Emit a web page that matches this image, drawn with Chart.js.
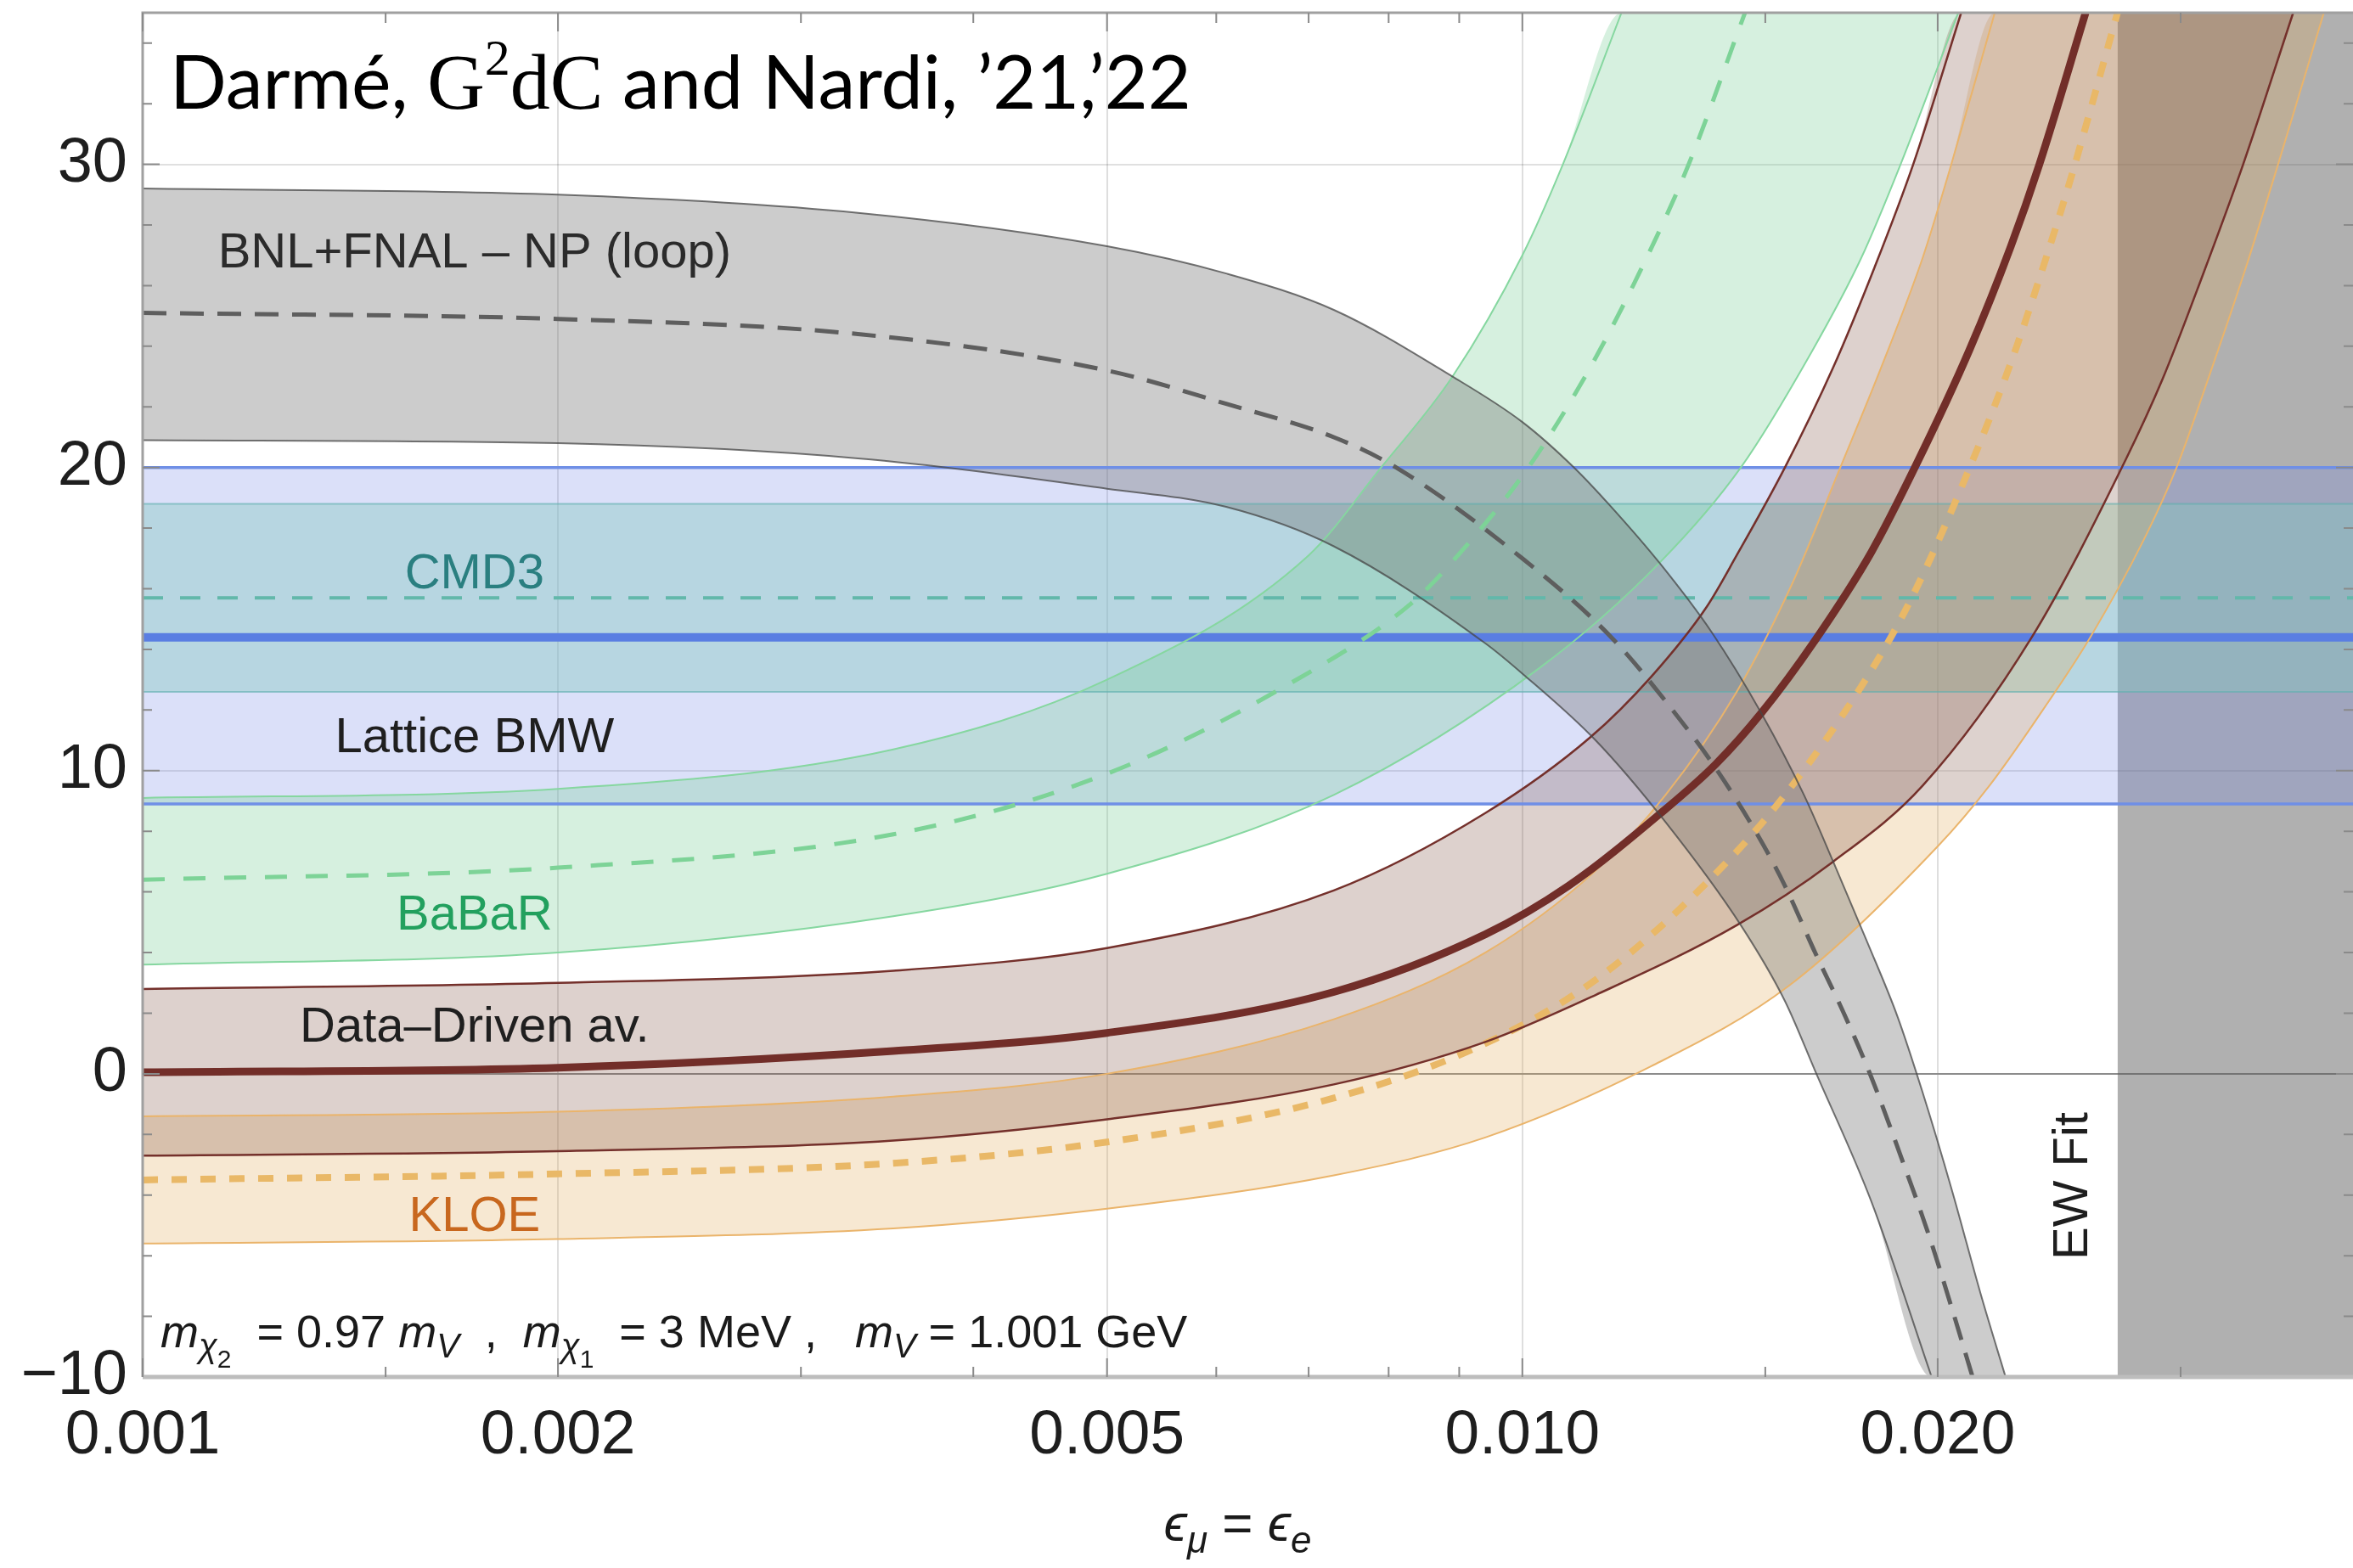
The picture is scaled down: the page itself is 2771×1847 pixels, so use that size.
<!DOCTYPE html>
<html>
<head>
<meta charset="utf-8">
<script src="https://cdn.jsdelivr.net/npm/chart.js@4.4.1/dist/chart.umd.min.js"></script>
<style>
  html, body { margin: 0; padding: 0; background: #fff; }
  #wrap { width: 2771px; height: 1847px; }
</style>
</head>
<body>
<div id="wrap"><canvas id="epsChart" width="2771" height="1847"></canvas></div>
<script>
// axes
let xTickValues = [0.001, 0.002, 0.005, 0.01, 0.02];
let xTickLabels = ['0.001', '0.002', '0.005', '0.010', '0.020'];
let xMinorTicks = [0.0015, 0.003, 0.004, 0.006, 0.007, 0.008, 0.009, 0.015, 0.03];
let yTickValues = [-10, 0, 10, 20, 30];
let yTickLabels = ['\u221210', '0', '10', '20', '30'];

// BNL+FNAL - NP (loop), grey band
let bnlUpperX = [0.001, 0.002, 0.0033, 0.005, 0.0061, 0.0073, 0.0089, 0.0100, 0.0109, 0.0116, 0.0126, 0.0137, 0.0149, 0.0160, 0.0168, 0.0178, 0.0187, 0.0195, 0.0205, 0.0215, 0.0224];
let bnlUpperY = [29.2, 29.0, 28.4, 27.3, 26.4, 25.2, 23.0, 21.5, 20.0, 18.7, 16.8, 14.6, 11.9, 9.2, 7.0, 4.3, 1.9, -0.6, -3.9, -7.3, -10];
let bnlMidX = [0.001, 0.002, 0.0033, 0.005, 0.0061, 0.0073, 0.0081, 0.0100, 0.0116, 0.0129, 0.0138, 0.0148, 0.0155, 0.0163, 0.0171, 0.0179, 0.0188, 0.0197, 0.0205, 0.0212];
let bnlMidY = [25.1, 24.9, 24.4, 23.2, 22.1, 21.0, 20.0, 17.0, 14.4, 11.9, 10.1, 7.9, 6.2, 4.0, 2.0, -0.1, -2.7, -5.3, -7.8, -10];
let bnlLowerX = [0.001, 0.002, 0.0033, 0.005, 0.0061, 0.0073, 0.0094, 0.0100, 0.0113, 0.0127, 0.0144, 0.0155, 0.0163, 0.0179, 0.0198];
let bnlLowerY = [20.9, 20.8, 20.3, 19.3, 18.7, 17.4, 14.2, 13.2, 11.0, 8.3, 4.9, 2.4, 0.1, -4.2, -10];

// BaBaR, green band
let babarUpperX = [0.001, 0.002, 0.0035, 0.005, 0.0070, 0.0079, 0.0089, 0.0100, 0.0107, 0.0118];
let babarUpperY = [9.1, 9.4, 10.7, 13.0, 17.1, 20.0, 23.0, 27.0, 30.0, 35];
let babarMidX = [0.001, 0.002, 0.0035, 0.005, 0.0068, 0.0083, 0.0089, 0.0101, 0.0112, 0.0123, 0.0132, 0.0145];
let babarMidY = [6.4, 6.8, 7.9, 9.9, 12.9, 15.5, 16.9, 20.0, 23.3, 26.9, 30.0, 35];
let babarLowerX = [0.001, 0.002, 0.0035, 0.005, 0.0073, 0.0103, 0.0126, 0.0144, 0.0162, 0.0176, 0.0188, 0.0207];
let babarLowerY = [3.6, 4.0, 5.2, 6.6, 9.2, 13.4, 16.9, 20.0, 23.8, 26.9, 30.0, 35];

// Data-Driven av., brown band
let ddUpperX = [0.001, 0.002, 0.0035, 0.005, 0.0073, 0.0094, 0.0112, 0.0124, 0.0136, 0.0143, 0.0155, 0.0168, 0.0180, 0.0192, 0.0208];
let ddUpperY = [2.8, 3.0, 3.4, 4.15, 6.05, 8.6, 11.1, 13.1, 15.4, 17.1, 20.0, 23.3, 26.6, 30.0, 35];
let ddMidX = [0.001, 0.002, 0.0035, 0.005, 0.0073, 0.0094, 0.0108, 0.0126, 0.0138, 0.0149, 0.0163, 0.0179, 0.0193, 0.0211, 0.0226, 0.0237, 0.0256];
let ddMidY = [0.05, 0.2, 0.75, 1.35, 2.7, 4.6, 6.2, 8.6, 10.2, 11.9, 14.3, 17.2, 20.1, 23.9, 27.3, 30.0, 35];
let ddLowerX = [0.001, 0.002, 0.0035, 0.005, 0.0073, 0.0094, 0.0113, 0.0143, 0.0168, 0.0195, 0.0234, 0.0274, 0.0291, 0.0311, 0.0333, 0.0362];
let ddLowerY = [-2.7, -2.55, -2.2, -1.5, -0.35, 1.05, 2.6, 4.9, 7.0, 9.5, 14.4, 20.3, 22.9, 26.3, 30.0, 35];

// KLOE, orange band
let kloeUpperX = [0.001, 0.002, 0.0035, 0.005, 0.0073, 0.0094, 0.0113, 0.0127, 0.0143, 0.0157, 0.0170, 0.0182, 0.0195, 0.0204, 0.0220];
let kloeUpperY = [-1.4, -1.25, -0.75, 0.0, 1.8, 4.0, 6.7, 9.2, 12.6, 16.2, 20.0, 23.3, 26.9, 29.8, 35];
let kloeMidX = [0.001, 0.002, 0.0035, 0.005, 0.0073, 0.0094, 0.0113, 0.0136, 0.0155, 0.0179, 0.0192, 0.0211, 0.0227, 0.0240, 0.0250, 0.0270];
let kloeMidY = [-3.5, -3.3, -2.95, -2.25, -0.8, 1.0, 3.1, 6.3, 9.2, 13.3, 15.8, 20.0, 23.7, 27.0, 29.6, 35];
let kloeLowerX = [0.001, 0.002, 0.0035, 0.005, 0.0073, 0.0094, 0.0124, 0.0156, 0.0200, 0.0218, 0.0240, 0.0258, 0.0282, 0.0298, 0.0314, 0.0334, 0.0353, 0.0381];
let kloeLowerY = [-5.6, -5.45, -5.1, -4.45, -3.35, -2.1, 0.25, 2.9, 7.5, 9.5, 12.2, 14.4, 17.6, 20.0, 22.9, 26.5, 30.0, 35];

// flat bands: Lattice BMW and CMD3
let flatX = [0.001, 0.04];
let bmwUpper = [20, 20];
let bmwMid = [14.4, 14.4];
let bmwLower = [8.9, 8.9];
let cmd3Upper = [18.8, 18.8];
let cmd3Mid = [15.7, 15.7];
let cmd3Lower = [12.6, 12.6];

// EW fit exclusion
let ewFitX = [0.027, 0.04];
let ewFitY = [35, 35];

function pts(xs, ys) {
  return xs.map(function (x, i) { return {x: x, y: ys[i]}; });
}

function curve(xs, ys, color, width, dash, order) {
  return {
    data: pts(xs, ys),
    borderColor: color,
    borderWidth: width,
    borderDash: dash || [],
    pointRadius: 0,
    fill: false,
    order: order,
    cubicInterpolationMode: 'monotone',
    clip: 0
  };
}

function bandFill(upper, lower, color, order) {
  return [
    {data: upper, fill: '+1', backgroundColor: color, borderColor: 'rgba(0,0,0,0)', borderWidth: 0,
     pointRadius: 0, order: order, cubicInterpolationMode: 'monotone', clip: 0},
    {data: lower, fill: false, borderColor: 'rgba(0,0,0,0)', borderWidth: 0,
     pointRadius: 0, order: order, cubicInterpolationMode: 'monotone', clip: 0}
  ];
}

// rising bands leave through the top, so the upper edge runs along the top until the lower edge gets there
function risingFill(ux, uy, lx, ly, color, order) {
  let upper = pts(ux, uy);
  upper.push({x: lx[lx.length - 1], y: uy[uy.length - 1]});
  return bandFill(upper, pts(lx, ly), color, order);
}

let bnlLowerFill = pts(bnlLowerX, bnlLowerY);
bnlLowerFill.push({x: bnlUpperX[bnlUpperX.length - 1], y: bnlLowerY[bnlLowerY.length - 1]});

let datasets = [].concat(
  [{data: pts(ewFitX, ewFitY), fill: 'start', backgroundColor: 'rgba(90,90,90,0.48)', borderColor: 'rgba(0,0,0,0)',
    borderWidth: 0, pointRadius: 0, order: 100, clip: 0}],
  bandFill(pts(flatX, bmwUpper), pts(flatX, bmwLower), 'rgba(110,130,230,0.25)', 90),
  bandFill(pts(flatX, cmd3Upper), pts(flatX, cmd3Lower), 'rgba(130,200,190,0.40)', 85),
  risingFill(babarUpperX, babarUpperY, babarLowerX, babarLowerY, 'rgba(120,205,150,0.30)', 80),
  risingFill(kloeUpperX, kloeUpperY, kloeLowerX, kloeLowerY, 'rgba(225,170,90,0.27)', 75),
  risingFill(ddUpperX, ddUpperY, ddLowerX, ddLowerY, 'rgba(130,85,70,0.27)', 70),
  bandFill(pts(bnlUpperX, bnlUpperY), bnlLowerFill, 'rgba(110,110,110,0.35)', 65),
  [
    curve(flatX, cmd3Upper, 'rgba(95,175,175,0.6)', 2, null, 22),
    curve(flatX, cmd3Lower, 'rgba(95,175,175,0.6)', 2, null, 22),
    curve(flatX, cmd3Mid, '#62b8aa', 4, [24, 20], 21),
    curve(flatX, bmwUpper, '#6f8fe6', 3.5, null, 20),
    curve(flatX, bmwLower, '#6f8fe6', 3.5, null, 20),
    curve(flatX, bmwMid, '#5a7ee2', 10, null, 20),
    curve(babarUpperX, babarUpperY, '#86d7a0', 2, null, 15),
    curve(babarLowerX, babarLowerY, '#86d7a0', 2, null, 15),
    curve(babarMidX, babarMidY, '#7dd397', 5, [26, 22], 15),
    curve(kloeUpperX, kloeUpperY, '#eab46b', 2, null, 12),
    curve(kloeLowerX, kloeLowerY, '#eab46b', 2, null, 12),
    curve(kloeMidX, kloeMidY, '#e9b867', 8, [18, 16], 12),
    curve(ddUpperX, ddUpperY, '#74302b', 2.5, null, 10),
    curve(ddLowerX, ddLowerY, '#74302b', 2.5, null, 10),
    curve(ddMidX, ddMidY, '#722e29', 9, null, 10),
    curve(bnlUpperX, bnlUpperY, 'rgba(70,70,70,0.75)', 2, null, 8),
    curve(bnlLowerX, bnlLowerY, 'rgba(70,70,70,0.75)', 2, null, 8),
    curve(bnlMidX, bnlMidY, '#5e5e5e', 5, [28, 16], 8)
  ]
);

let sans = '"Liberation Sans", Arial, "DejaVu Sans", sans-serif';

let bandLabels = [
  {text: 'BNL+FNAL \u2013 NP (loop)', x: 0.00174, y: 27.2, color: '#2b2b2b'},
  {text: 'CMD3', x: 0.00174, y: 16.6, color: '#2a7f80'},
  {text: 'Lattice BMW', x: 0.00174, y: 11.2, color: '#1f1f1f'},
  {text: 'BaBaR', x: 0.00174, y: 5.35, color: '#22a05e'},
  {text: 'Data\u2013Driven av.', x: 0.00174, y: 1.65, color: '#1f1f1f'},
  {text: 'KLOE', x: 0.00174, y: -4.6, color: '#c8671e'}
];

function drawRuns(ctx, runs, x, y) {
  runs.forEach(function (r) {
    ctx.font = r.font;
    ctx.fillText(r.text, x, y + (r.dy || 0));
    x += ctx.measureText(r.text).width;
  });
}

function runsWidth(ctx, runs) {
  let w = 0;
  runs.forEach(function (r) { ctx.font = r.font; w += ctx.measureText(r.text).width; });
  return w;
}

let decorations = {
  id: 'decorations',
  afterDatasetsDraw: function (chart) {
    let ctx = chart.ctx;
    let xs = chart.scales.x, ys = chart.scales.y, area = chart.chartArea;
    ctx.save();

    bandLabels.forEach(function (l) {
      ctx.font = '58px ' + sans;
      ctx.fillStyle = l.color;
      ctx.textAlign = 'center';
      ctx.textBaseline = 'alphabetic';
      ctx.fillText(l.text, xs.getPixelForValue(l.x), ys.getPixelForValue(l.y) + 21);
    });

    ctx.save();
    ctx.translate(xs.getPixelForValue(0.0249), ys.getPixelForValue(-3.7));
    ctx.rotate(-Math.PI / 2);
    ctx.font = '58px ' + sans;
    ctx.fillStyle = '#1e1e1e';
    ctx.textAlign = 'center';
    ctx.fillText('EW Fit', 0, 21);
    ctx.restore();

    // parameters line
    let it = 'italic 54px ' + sans, rm = '54px ' + sans;
    let sub = 'italic 40px ' + sans, sub2 = '30px ' + sans;
    ctx.textAlign = 'left';
    ctx.fillStyle = '#1a1a1a';
    drawRuns(ctx, [
      {text: 'm', font: it}, {text: '\u03c7', font: sub, dy: 12}, {text: '2', font: sub2, dy: 24},
      {text: '  = 0.97 ', font: rm}, {text: 'm', font: it}, {text: 'V', font: sub, dy: 12},
      {text: '  ,  ', font: rm}, {text: 'm', font: it}, {text: '\u03c7', font: sub, dy: 12}, {text: '1', font: sub2, dy: 24},
      {text: '  = 3 MeV ,   ', font: rm}, {text: 'm', font: it}, {text: 'V', font: sub, dy: 12},
      {text: ' = 1.001 GeV', font: rm}
    ], area.left + 21, area.bottom - 35);

    // title
    let gill = '88px Lato, ' + sans, serif = '94px "Liberation Serif", serif';
    ctx.fillStyle = '#000';
    drawRuns(ctx, [
      {text: 'Darm\u00e9, ', font: gill}, {text: 'G', font: serif},
      {text: '2', font: '60px "Liberation Serif", serif', dy: -40},
      {text: 'dC', font: serif}, {text: ' and Nardi, \u201921,\u201922', font: gill}
    ], area.left + 32, area.top + 113);

    ctx.restore();
  },
  afterDraw: function (chart) {
    let ctx = chart.ctx;
    let xs = chart.scales.x, ys = chart.scales.y, area = chart.chartArea;
    ctx.save();

    // frame
    ctx.strokeStyle = '#a0a0a0';
    ctx.lineWidth = 3;
    ctx.beginPath();
    ctx.moveTo(area.left, area.bottom);
    ctx.lineTo(area.left, area.top);
    ctx.lineTo(area.right, area.top);
    ctx.stroke();
    ctx.strokeStyle = '#bdbdbd';
    ctx.lineWidth = 5;
    ctx.beginPath();
    ctx.moveTo(area.left, area.bottom);
    ctx.lineTo(area.right, area.bottom);
    ctx.stroke();

    // inner tick marks
    ctx.strokeStyle = '#8a8a8a';
    ctx.lineWidth = 2;
    ctx.beginPath();
    xTickValues.concat(xMinorTicks).forEach(function (v) {
      let len = xTickValues.indexOf(v) >= 0 ? 22 : 12;
      let px = xs.getPixelForValue(v);
      ctx.moveTo(px, area.bottom);
      ctx.lineTo(px, area.bottom - len);
      ctx.moveTo(px, area.top);
      ctx.lineTo(px, area.top + len);
    });
    for (let v = -8; v <= 34; v += 2) {
      let len = v % 10 === 0 ? 20 : 11;
      let py = ys.getPixelForValue(v);
      ctx.moveTo(area.left, py);
      ctx.lineTo(area.left + len, py);
      ctx.moveTo(area.right, py);
      ctx.lineTo(area.right - len, py);
    }
    ctx.stroke();

    // x axis title
    let big = 'italic 62px ' + sans, small = 'italic 44px ' + sans;
    let runs = [
      {text: '\u03f5', font: big}, {text: '\u03bc', font: small, dy: 14},
      {text: ' = ', font: '62px ' + sans},
      {text: '\u03f5', font: big}, {text: 'e', font: small, dy: 14}
    ];
    ctx.fillStyle = '#1a1a1a';
    ctx.textAlign = 'left';
    let w = runsWidth(ctx, runs);
    drawRuns(ctx, runs, (area.left + area.right) / 2 - 12 - w / 2, 1815);

    ctx.restore();
  }
};

let epsCanvas = document.getElementById('epsChart').getContext('2d');

new Chart(epsCanvas, {
  type: 'line',
  data: {datasets: datasets},
  options: {
    responsive: false,
    devicePixelRatio: 1,
    animation: false,
    events: [],
    layout: {padding: {top: 15, right: 0, bottom: 0, left: 0}},
    plugins: {legend: {display: false}, tooltip: {enabled: false}},
    scales: {
      x: {
        type: 'logarithmic',
        min: 0.001,
        max: 0.04,
        afterBuildTicks: function (scale) {
          scale.ticks = xTickValues.map(function (v) { return {value: v}; });
        },
        afterFit: function (scale) {
          scale.height = 225;
          scale.paddingLeft = 0;
          scale.paddingRight = 0;
        },
        ticks: {
          callback: function (value, index) { return xTickLabels[index]; },
          font: {family: sans, size: 73},
          color: '#1e1e1e',
          padding: 26,
          maxRotation: 0,
          autoSkip: false
        },
        grid: {
          color: function (c) { return c.tick && c.tick.value === 0.001 ? 'rgba(0,0,0,0)' : 'rgba(0,0,0,0.13)'; },
          lineWidth: 2,
          drawTicks: false
        },
        border: {display: false}
      },
      y: {
        min: -10,
        max: 35,
        afterBuildTicks: function (scale) {
          scale.ticks = yTickValues.map(function (v) { return {value: v}; });
        },
        afterFit: function (scale) {
          scale.width = 168;
          scale.paddingTop = 0;
          scale.paddingBottom = 0;
        },
        ticks: {
          callback: function (value, index) { return yTickLabels[index]; },
          font: {family: sans, size: 74},
          color: '#1e1e1e',
          padding: 18,
          autoSkip: false
        },
        grid: {
          color: function (c) {
            if (!c.tick) return 'rgba(0,0,0,0)';
            if (c.tick.value === 0) return '#8c8c8c';
            if (c.tick.value === -10) return 'rgba(0,0,0,0)';
            return 'rgba(0,0,0,0.12)';
          },
          lineWidth: 2,
          drawTicks: false
        },
        border: {display: false}
      }
    }
  },
  plugins: [decorations]
});
</script>
</body>
</html>
